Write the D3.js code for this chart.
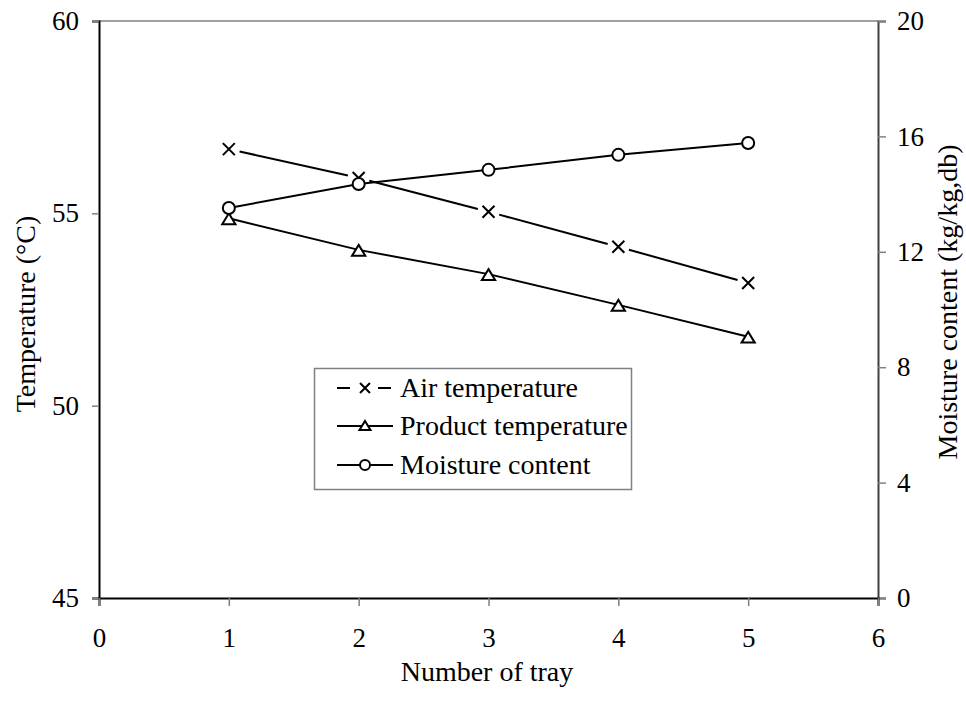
<!DOCTYPE html>
<html>
<head>
<meta charset="utf-8">
<script src="https://cdn.jsdelivr.net/npm/d3@7"></script>
<style>
  body { margin: 0; background: #fff; }
  text { font-family: "Liberation Serif", "Times New Roman", serif; fill: #000; }
</style>
</head>
<body>
<svg id="chart"></svg>
<script>
// data
var trays = [1, 2, 3, 4, 5];
var airTemp = [56.67, 55.92, 55.04, 54.13, 53.19];
var productTemp = [54.87, 54.05, 53.42, 52.62, 51.79];
var moisture = [13.52, 14.35, 14.84, 15.36, 15.77];
var xTicks = [0, 1, 2, 3, 4, 5, 6];
var leftTicks = [45, 50, 55, 60];
var rightTicks = [0, 4, 8, 12, 16, 20];
var legendNames = ["Air temperature", "Product temperature", "Moisture content"];

var width = 966, height = 702;
var svg = d3.select("#chart").attr("width", width).attr("height", height);

var plotL = 99, plotR = 878, plotT = 21, plotB = 598;
var x = d3.scaleLinear().domain([0, 6]).range([plotL, plotR]);
var yL = d3.scaleLinear().domain([45, 60]).range([plotB, plotT]);
var yR = d3.scaleLinear().domain([0, 20]).range([plotB, plotT]);

var fsTick = 27, fsTitle = 28, fsLeg = 28;

// top frame line
svg.append("line")
  .attr("x1", plotL).attr("x2", plotR).attr("y1", plotT).attr("y2", plotT)
  .attr("stroke", "#808080").attr("stroke-width", 1.5);

// axes
var gL = svg.append("g").attr("transform", "translate(" + plotL + ",0)")
  .call(d3.axisLeft(yL).tickValues(leftTicks).tickSize(7).tickPadding(13).tickFormat(d3.format("d")));
var gR = svg.append("g").attr("transform", "translate(" + plotR + ",0)")
  .call(d3.axisRight(yR).tickValues(rightTicks).tickSize(8).tickPadding(11).tickFormat(d3.format("d")));
var gB = svg.append("g").attr("transform", "translate(0," + plotB + ")")
  .call(d3.axisBottom(x).tickValues(xTicks).tickSize(8).tickPadding(22).tickFormat(d3.format("d")));

[gL, gR, gB].forEach(function(g) {
  g.selectAll("text").style("font-size", fsTick + "px").attr("font-family", null);
  g.selectAll(".tick line").attr("stroke", "#808080").attr("stroke-width", 1.5);
  g.select(".domain").attr("stroke-width", 2);
});
gL.select(".domain").attr("stroke", "#000");
gB.select(".domain").attr("stroke", "#000");
gR.select(".domain").attr("stroke", "#404040");

// axis titles
svg.append("text")
  .attr("transform", "translate(35,314) rotate(-90)")
  .attr("text-anchor", "middle").style("font-size", fsTitle + "px")
  .text("Temperature (\u00B0C)");
svg.append("text")
  .attr("transform", "translate(957,302) rotate(-90)")
  .attr("text-anchor", "middle").style("font-size", fsTitle + "px")
  .text("Moisture content (kg/kg,db)");
svg.append("text")
  .attr("x", 487).attr("y", 681)
  .attr("text-anchor", "middle").style("font-size", fsTitle + "px")
  .text("Number of tray");

// marker helpers
function drawX(g, cx, cy, s) {
  g.append("path")
    .attr("d", "M" + (cx - s) + "," + (cy - s) + "L" + (cx + s) + "," + (cy + s) +
               "M" + (cx - s) + "," + (cy + s) + "L" + (cx + s) + "," + (cy - s))
    .attr("stroke", "#000").attr("stroke-width", 2).attr("fill", "none");
}
function drawTri(g, cx, cy, s) {
  g.append("path")
    .attr("d", "M" + cx + "," + (cy - s) + "L" + (cx + s * 1.1) + "," + (cy + s * 0.8) +
               "L" + (cx - s * 1.1) + "," + (cy + s * 0.8) + "Z")
    .attr("stroke", "#000").attr("stroke-width", 2).attr("fill", "#fff");
}
function drawO(g, cx, cy, r) {
  g.append("circle").attr("cx", cx).attr("cy", cy).attr("r", r)
    .attr("stroke", "#000").attr("stroke-width", 2).attr("fill", "#fff");
}

// air temperature: line broken around markers
var airPts = trays.map(function(t, i) { return [x(t), yL(airTemp[i])]; });
var gap = 11;
var gAir = svg.append("g");
for (var i = 0; i < airPts.length - 1; i++) {
  var p = airPts[i], q = airPts[i + 1];
  var dx = q[0] - p[0], dy = q[1] - p[1], len = Math.sqrt(dx * dx + dy * dy);
  var ux = dx / len, uy = dy / len;
  gAir.append("line")
    .attr("x1", p[0] + ux * gap).attr("y1", p[1] + uy * gap)
    .attr("x2", q[0] - ux * gap).attr("y2", q[1] - uy * gap)
    .attr("stroke", "#000").attr("stroke-width", 2);
}
airPts.forEach(function(p) { drawX(gAir, p[0], p[1], 6); });

// product temperature
var gProd = svg.append("g");
gProd.append("path")
  .datum(trays.map(function(t, i) { return [t, productTemp[i]]; }))
  .attr("d", d3.line().x(function(d) { return x(d[0]); }).y(function(d) { return yL(d[1]); }))
  .attr("fill", "none").attr("stroke", "#000").attr("stroke-width", 2);
trays.forEach(function(t, i) { drawTri(gProd, x(t), yL(productTemp[i]) + 1, 6); });

// moisture content
var gMoist = svg.append("g");
gMoist.append("path")
  .datum(trays.map(function(t, i) { return [t, moisture[i]]; }))
  .attr("d", d3.line().x(function(d) { return x(d[0]); }).y(function(d) { return yR(d[1]); }))
  .attr("fill", "none").attr("stroke", "#000").attr("stroke-width", 2);
trays.forEach(function(t, i) { drawO(gMoist, x(t), yR(moisture[i]), 6); });

// legend
var lg = svg.append("g");
lg.append("rect").attr("x", 314.5).attr("y", 368.5).attr("width", 317).attr("height", 121)
  .attr("fill", "#fff").attr("stroke", "#808080").attr("stroke-width", 1.5);
var rowY = [388, 426, 465];
legendNames.forEach(function(name, i) {
  var cy = rowY[i];
  if (i === 0) {
    lg.append("line").attr("x1", 337).attr("x2", 350).attr("y1", cy).attr("y2", cy)
      .attr("stroke", "#000").attr("stroke-width", 2);
    lg.append("line").attr("x1", 378).attr("x2", 391).attr("y1", cy).attr("y2", cy)
      .attr("stroke", "#000").attr("stroke-width", 2);
    drawX(lg, 365, cy, 5);
  } else {
    lg.append("line").attr("x1", 337).attr("x2", 393).attr("y1", cy).attr("y2", cy)
      .attr("stroke", "#000").attr("stroke-width", 2);
    if (i === 1) drawTri(lg, 365, cy, 5);
    else drawO(lg, 365, cy, 5);
  }
  lg.append("text").attr("x", 400).attr("y", cy + 9)
    .style("font-size", fsLeg + "px").text(name);
});
</script>
</body>
</html>
